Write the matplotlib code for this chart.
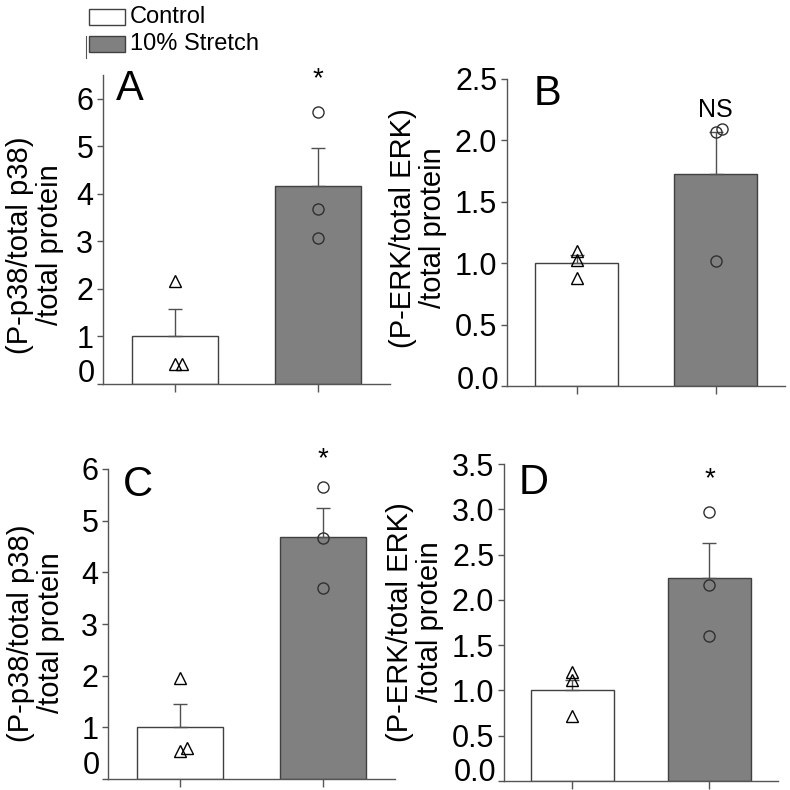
import matplotlib
matplotlib.use("Agg")
import matplotlib.pyplot as plt
from matplotlib.patches import Rectangle
from matplotlib.lines import Line2D

plt.rcParams['font.family'] = ['Liberation Sans', 'DejaVu Sans']

groups = ["Control", "10% Stretch"]

# Panel A: P-p38 (first experiment)
a_means = [1.00, 4.16]
a_err = [0.58, 0.81]
a_ctrl_pts = [2.17, 0.42, 0.42]
a_str_pts = [5.73, 3.68, 3.07]

# Panel B: P-ERK (first experiment)
b_means = [1.00, 1.73]
b_err = [0.065, 0.34]
b_ctrl_pts = [1.10, 1.03, 0.88]
b_str_pts = [2.07, 2.09, 1.02]

# Panel C: P-p38 (second experiment)
c_means = [1.00, 4.69]
c_err = [0.45, 0.56]
c_ctrl_pts = [1.95, 0.54, 0.60]
c_str_pts = [5.66, 4.67, 3.70]

# Panel D: P-ERK (second experiment)
d_means = [1.00, 2.24]
d_err = [0.12, 0.39]
d_ctrl_pts = [1.20, 1.11, 0.72]
d_str_pts = [2.97, 2.16, 1.60]

a_yticks = [0, 1, 2, 3, 4, 5, 6]
b_yticks = [0.0, 0.5, 1.0, 1.5, 2.0, 2.5]
c_yticks = [0, 1, 2, 3, 4, 5, 6]
d_yticks = [0.0, 0.5, 1.0, 1.5, 2.0, 2.5, 3.0, 3.5]

p38_label = "(P-p38/total p38)\n/total protein"
erk_label = "(P-ERK/total ERK)\n/total protein"

W = H = 790
fig = plt.figure(figsize=(7.9, 7.9), dpi=100)


def fx(px):
    return px / W


def fy(py):
    return 1 - py / H


def make_ax(left, right, top, bottom):
    return fig.add_axes([fx(left), fy(bottom), fx(right - left), (bottom - top) / H])


EDGE = '#404040'
AXC = '#555555'


def panel(ax, means, errs, ctrl_pts, str_pts, ctrl_off, str_off, ylim, yticks, fmt,
          letter, letter_xy, annot, annot_y, zero_shift):
    xs = [0, 1]
    ax.bar(xs, means, width=0.6, color=['white', '#808080'], edgecolor=EDGE,
           linewidth=1.0, zorder=2)
    ax.errorbar(xs, means, yerr=[[0, 0], errs], fmt='none', ecolor='#505050',
                elinewidth=1.0, capsize=5, capthick=1.0, zorder=3)
    ax.plot([0 + o for o in ctrl_off], ctrl_pts, linestyle='none', marker='^',
            markersize=8, markerfacecolor='none', markeredgecolor='black',
            markeredgewidth=1.0, zorder=4, clip_on=False)
    ax.plot([1 + o for o in str_off], str_pts, linestyle='none', marker='o',
            markersize=8, markerfacecolor='none', markeredgecolor='#303030',
            markeredgewidth=1.0, zorder=4, clip_on=False)
    ax.set_xlim(-0.5, 1.5)
    ax.set_ylim(*ylim)
    ax.set_yticks(yticks)
    # bottom tick label is drawn separately, lifted so it stays inside the figure
    ax.set_yticklabels([''] + [fmt.format(v) for v in yticks[1:]], fontsize=22)
    ax.annotate(fmt.format(yticks[0]), xy=(0, yticks[0]),
                xycoords=('axes fraction', 'data'),
                xytext=(-8, zero_shift), textcoords='offset pixels',
                ha='right', va='center', fontsize=22)
    ax.set_xticks(xs)
    ax.set_xticklabels([])
    for s in ['top', 'right']:
        ax.spines[s].set_visible(False)
    for s in ['left', 'bottom']:
        ax.spines[s].set_color(AXC)
        ax.spines[s].set_linewidth(1.0)
    ax.tick_params(axis='y', direction='out', length=4, width=1, color=AXC, pad=3)
    ax.tick_params(axis='x', direction='out', length=6, width=1, color=AXC)
    ax.text(letter_xy[0], letter_xy[1], letter, transform=ax.transAxes,
            fontsize=30, ha='left', va='center')
    ax.text(1, annot_y, annot, ha='center', va='center',
            fontsize=20 if annot == '*' else 18, clip_on=False)


axA = make_ax(103, 390, 75, 384)
panel(axA, a_means, a_err, a_ctrl_pts, a_str_pts, [0, 0, 0.05], [0, 0, 0],
      (0, 6.5), a_yticks, "{:.0f}", "A", (0.045, 0.955), "*", 6.42, 10)

axB = make_ax(507, 785, 79, 386)
panel(axB, b_means, b_err, b_ctrl_pts, b_str_pts, [0, 0, 0], [0, 0.05, 0],
      (0, 2.5), b_yticks, "{:.1f}", "B", (0.094, 0.95), "NS", 2.25, 5)

axC = make_ax(108, 395, 469, 779)
panel(axC, c_means, c_err, c_ctrl_pts, c_str_pts, [0, 0, 0.05], [0, 0, 0],
      (0, 6), c_yticks, "{:.0f}", "C", (0.052, 0.948), "*", 6.18, 13)

axD = make_ax(504, 778, 464, 781)
panel(axD, d_means, d_err, d_ctrl_pts, d_str_pts, [0, 0, 0], [0, 0, 0],
      (0, 3.5), d_yticks, "{:.1f}", "D", (0.055, 0.94), "*", 3.33, 8)

# y-axis labels
for (x, y, lab) in [(35, 245, p38_label), (418, 228, erk_label),
                    (36, 633, p38_label), (415, 622, erk_label)]:
    fig.text(fx(x), fy(y), lab, rotation=90, ha='center', va='center',
             multialignment='center', fontsize=21, linespacing=1.1)

# legend (top-left)
fig.patches.append(Rectangle((fx(89), fy(25)), fx(36), 16 / H, transform=fig.transFigure,
                             facecolor='white', edgecolor=EDGE, linewidth=1.0))
fig.patches.append(Rectangle((fx(89), fy(52)), fx(36), 16 / H, transform=fig.transFigure,
                             facecolor='#808080', edgecolor=EDGE, linewidth=1.0))
fig.lines.append(Line2D([fx(86), fx(86)], [fy(36), fy(58)], transform=fig.transFigure,
                        color='#555555', linewidth=0.8))
fig.text(fx(130), fy(17), groups[0], fontsize=17, ha='left', va='center')
fig.text(fx(130), fy(44), groups[1], fontsize=17, ha='left', va='center')

fig.savefig("out.png", dpi=100)
